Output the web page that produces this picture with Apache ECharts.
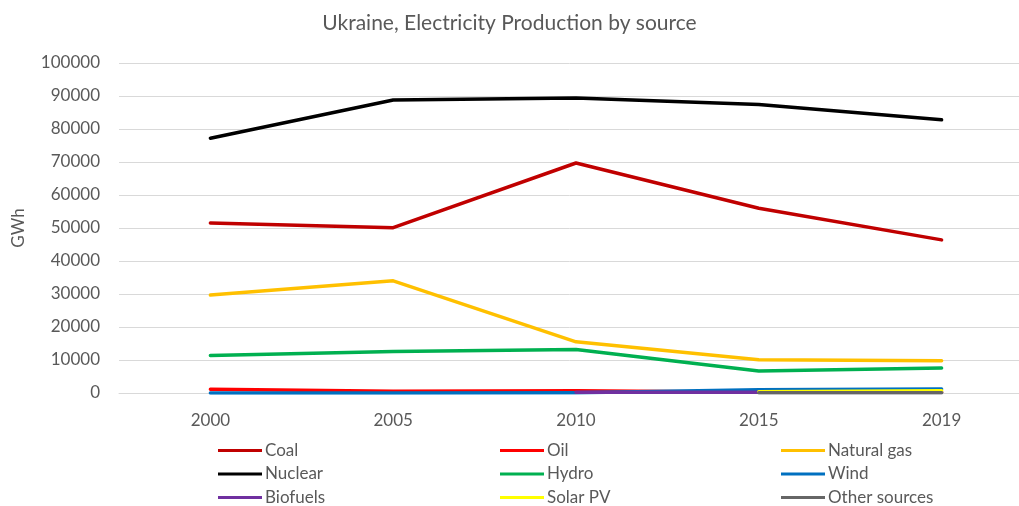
<!DOCTYPE html>
<html>
<head>
<meta charset="utf-8">
<script src="https://cdn.jsdelivr.net/npm/echarts@6/dist/echarts.min.js"></script>
<style>
html,body{margin:0;padding:0;background:#fff;}
#chart{width:1019px;height:506px;}
</style>
</head>
<body>
<div id="chart"></div>
<script>
const years = ['2000', '2005', '2010', '2015', '2019'];
const coal = [51500, 50100, 69700, 56000, 46400];
const oil = [1100, 500, 650, 250, 200];
const naturalGas = [29700, 34000, 15500, 10100, 9800];
const nuclear = [77200, 88800, 89400, 87400, 82800];
const hydro = [11400, 12600, 13200, 6700, 7600];
const wind = [0, 0, 50, 1000, 1200];
const biofuels = [null, null, 200, 250, 300];
const solarPV = [null, null, null, 400, 700];
const otherSources = [null, null, null, 100, 100];
const yTicks = { min: 0, max: 100000, interval: 10000 };

const seriesDefs = [
  ['Coal', coal, '#C00000'],
  ['Oil', oil, '#FF0000'],
  ['Natural gas', naturalGas, '#FFC000'],
  ['Nuclear', nuclear, '#000000'],
  ['Hydro', hydro, '#00B050'],
  ['Wind', wind, '#0070C0'],
  ['Biofuels', biofuels, '#7030A0'],
  ['Solar PV', solarPV, '#FFFF00'],
  ['Other sources', otherSources, '#666666']
];

const font = 'Lato, "Open Sans", sans-serif';
const txt = '#595959';
const legendCols = [218, 500, 781];
const legendRows = [449, 472.5, 496];

const chart = echarts.init(document.getElementById('chart'), null, { renderer: 'canvas' });
chart.setOption({
  animation: false,
  backgroundColor: '#fff',
  title: {
    text: 'Ukraine, Electricity Production by source',
    left: 'center',
    top: 8,
    textStyle: { fontFamily: font, fontSize: 21, fontWeight: 'normal', color: txt }
  },
  legend: seriesDefs.map(([name], i) => ({
    left: legendCols[i % 3],
    top: legendRows[Math.floor(i / 3)] - 7,
    padding: 0,
    icon: 'rect',
    itemWidth: 44,
    itemHeight: 3,
    data: [name],
    textStyle: { fontFamily: font, fontSize: 17, color: txt, padding: [0, 0, 0, -2] }
  })),
  grid: { left: 119, right: -14, top: 63, bottom: 113, outerBoundsMode: 'none', containLabel: false },
  xAxis: {
    type: 'category',
    data: years,
    boundaryGap: true,
    axisLine: { show: true, lineStyle: { color: '#D9D9D9', width: 1 } },
    axisTick: { show: false },
    axisLabel: { fontFamily: font, fontSize: 17, color: txt, margin: 19 },
    splitLine: { show: false }
  },
  yAxis: {
    type: 'value',
    min: yTicks.min,
    max: yTicks.max,
    interval: yTicks.interval,
    name: 'GWh',
    nameLocation: 'middle',
    nameGap: 92,
    nameRotate: 90,
    nameTextStyle: { fontFamily: font, fontSize: 17, color: txt },
    axisLine: { show: false },
    axisTick: { show: false },
    axisLabel: { fontFamily: font, fontSize: 17, color: txt, margin: 19, formatter: v => String(v) },
    splitLine: { lineStyle: { color: '#D9D9D9', width: 1 } }
  },
  series: seriesDefs.map(([name, data, color]) => ({
    name: name,
    type: 'line',
    data: data,
    symbol: 'none',
    connectNulls: false,
    color: color,
    lineStyle: { color: color, width: 3.5, cap: 'round', join: 'round' },
    itemStyle: { color: color }
  }))
});
</script>
</body>
</html>
